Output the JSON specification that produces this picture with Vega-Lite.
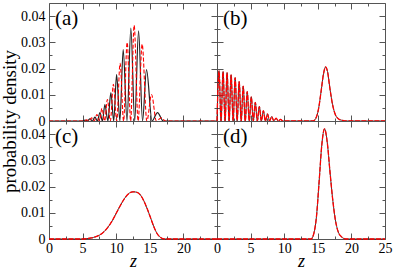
{
"$schema": "https://vega.github.io/schema/vega-lite/v6.json",
"padding": {"left": 0, "top": 2, "right": 2, "bottom": 0},
"datasets": {
"curves": [
{"panel":"a","series":"solid","z":0,"p":0},{"panel":"a","series":"solid","z":4.98,"p":0},{"panel":"a","series":"solid","z":5.35,"p":0.0003},{"panel":"a","series":"solid","z":5.72,"p":0},{"panel":"a","series":"solid","z":6.09,"p":0.0008},{"panel":"a","series":"solid","z":6.46,"p":0},{"panel":"a","series":"solid","z":6.83,"p":0.0015},{"panel":"a","series":"solid","z":7.2,"p":0},{"panel":"a","series":"solid","z":7.58,"p":0.0032},{"panel":"a","series":"solid","z":7.95,"p":0},{"panel":"a","series":"solid","z":8.32,"p":0.0063},{"panel":"a","series":"solid","z":8.76,"p":0},{"panel":"a","series":"solid","z":9.21,"p":0.0108},{"panel":"a","series":"solid","z":9.63,"p":0},{"panel":"a","series":"solid","z":10.06,"p":0.0177},{"panel":"a","series":"solid","z":10.55,"p":0},{"panel":"a","series":"solid","z":11.04,"p":0.0272},{"panel":"a","series":"solid","z":11.61,"p":0},{"panel":"a","series":"solid","z":12.18,"p":0.0354},{"panel":"a","series":"solid","z":12.75,"p":0},{"panel":"a","series":"solid","z":13.33,"p":0.0344},{"panel":"a","series":"solid","z":13.92,"p":0},{"panel":"a","series":"solid","z":14.51,"p":0.0196},{"panel":"a","series":"solid","z":15.33,"p":0},{"panel":"a","series":"solid","z":16.15,"p":0.0032},{"panel":"a","series":"solid","z":17.0,"p":0},{"panel":"a","series":"solid","z":25,"p":0},
{"panel":"a","series":"dashed","z":0,"p":0},{"panel":"a","series":"dashed","z":5.25,"p":0},{"panel":"a","series":"dashed","z":5.6,"p":0.0005},{"panel":"a","series":"dashed","z":5.97,"p":0},{"panel":"a","series":"dashed","z":6.34,"p":0.0012},{"panel":"a","series":"dashed","z":6.73,"p":0},{"panel":"a","series":"dashed","z":7.13,"p":0.0025},{"panel":"a","series":"dashed","z":7.5,"p":0},{"panel":"a","series":"dashed","z":7.88,"p":0.0048},{"panel":"a","series":"dashed","z":8.28,"p":0},{"panel":"a","series":"dashed","z":8.69,"p":0.0082},{"panel":"a","series":"dashed","z":9.13,"p":0},{"panel":"a","series":"dashed","z":9.58,"p":0.014},{"panel":"a","series":"dashed","z":10.08,"p":0},{"panel":"a","series":"dashed","z":10.58,"p":0.022},{"panel":"a","series":"dashed","z":11.1,"p":0},{"panel":"a","series":"dashed","z":11.63,"p":0.03},{"panel":"a","series":"dashed","z":12.15,"p":0},{"panel":"a","series":"dashed","z":12.67,"p":0.0365},{"panel":"a","series":"dashed","z":13.26,"p":0},{"panel":"a","series":"dashed","z":13.86,"p":0.0293},{"panel":"a","series":"dashed","z":14.56,"p":0},{"panel":"a","series":"dashed","z":15.26,"p":0.0101},{"panel":"a","series":"dashed","z":15.98,"p":0},{"panel":"a","series":"dashed","z":16.71,"p":0.0012},{"panel":"a","series":"dashed","z":17.3,"p":0},{"panel":"a","series":"dashed","z":25,"p":0},
{"panel":"b","series":"both","z":0,"p":0},{"panel":"b","series":"both","z":0.3,"p":0.0191},{"panel":"b","series":"both","z":0.6,"p":0},{"panel":"b","series":"both","z":0.9,"p":0.0188},{"panel":"b","series":"both","z":1.2,"p":0},{"panel":"b","series":"both","z":1.5,"p":0.0184},{"panel":"b","series":"both","z":1.8,"p":0},{"panel":"b","series":"both","z":2.1,"p":0.0176},{"panel":"b","series":"both","z":2.4,"p":0},{"panel":"b","series":"both","z":2.7,"p":0.0165},{"panel":"b","series":"both","z":3.0,"p":0},{"panel":"b","series":"both","z":3.3,"p":0.015},{"panel":"b","series":"both","z":3.6,"p":0},{"panel":"b","series":"both","z":3.9,"p":0.0133},{"panel":"b","series":"both","z":4.2,"p":0},{"panel":"b","series":"both","z":4.5,"p":0.0112},{"panel":"b","series":"both","z":4.8,"p":0},{"panel":"b","series":"both","z":5.1,"p":0.0092},{"panel":"b","series":"both","z":5.4,"p":0},{"panel":"b","series":"both","z":5.7,"p":0.0071},{"panel":"b","series":"both","z":6.0,"p":0},{"panel":"b","series":"both","z":6.3,"p":0.0055},{"panel":"b","series":"both","z":6.6,"p":0},{"panel":"b","series":"both","z":6.9,"p":0.0039},{"panel":"b","series":"both","z":7.2,"p":0},{"panel":"b","series":"both","z":7.51,"p":0.0027},{"panel":"b","series":"both","z":7.82,"p":0},{"panel":"b","series":"both","z":8.14,"p":0.0017},{"panel":"b","series":"both","z":8.46,"p":0},{"panel":"b","series":"both","z":8.79,"p":0.0011},{"panel":"b","series":"both","z":9.12,"p":0},{"panel":"b","series":"both","z":9.46,"p":0.0006},{"panel":"b","series":"both","z":9.8,"p":0},{"panel":"b","series":"both","z":14.3,"p":0},{"panel":"b","series":"both","z":14.7,"p":0.001},{"panel":"b","series":"both","z":15.1,"p":0.0045},{"panel":"b","series":"both","z":15.5,"p":0.0115},{"panel":"b","series":"both","z":15.85,"p":0.018},{"panel":"b","series":"both","z":16.15,"p":0.0206},{"panel":"b","series":"both","z":16.45,"p":0.0188},{"panel":"b","series":"both","z":16.8,"p":0.0125},{"panel":"b","series":"both","z":17.2,"p":0.0062},{"panel":"b","series":"both","z":17.6,"p":0.0025},{"panel":"b","series":"both","z":18.1,"p":0.0008},{"panel":"b","series":"both","z":18.7,"p":0.0002},{"panel":"b","series":"both","z":19.3,"p":0},{"panel":"b","series":"both","z":25,"p":0},
{"panel":"c","series":"both","z":0,"p":0},{"panel":"c","series":"both","z":4.8,"p":0},{"panel":"c","series":"both","z":5.5,"p":0.0001},{"panel":"c","series":"both","z":6.3,"p":0.0004},{"panel":"c","series":"both","z":7.0,"p":0.0009},{"panel":"c","series":"both","z":7.6,"p":0.0016},{"panel":"c","series":"both","z":8.2,"p":0.0028},{"panel":"c","series":"both","z":8.8,"p":0.0046},{"panel":"c","series":"both","z":9.4,"p":0.0069},{"panel":"c","series":"both","z":10.0,"p":0.0098},{"panel":"c","series":"both","z":10.6,"p":0.0127},{"panel":"c","series":"both","z":11.2,"p":0.0153},{"panel":"c","series":"both","z":11.8,"p":0.0172},{"panel":"c","series":"both","z":12.5,"p":0.018},{"panel":"c","series":"both","z":13.1,"p":0.0178},{"panel":"c","series":"both","z":13.6,"p":0.0168},{"panel":"c","series":"both","z":14.1,"p":0.0146},{"panel":"c","series":"both","z":14.6,"p":0.0116},{"panel":"c","series":"both","z":15.1,"p":0.0082},{"panel":"c","series":"both","z":15.6,"p":0.0047},{"panel":"c","series":"both","z":16.1,"p":0.002},{"panel":"c","series":"both","z":16.6,"p":0.0006},{"panel":"c","series":"both","z":17.2,"p":0},{"panel":"c","series":"both","z":25,"p":0},
{"panel":"d","series":"both","z":0,"p":0},{"panel":"d","series":"both","z":14.0,"p":0},{"panel":"d","series":"both","z":14.4,"p":0.002},{"panel":"d","series":"both","z":14.8,"p":0.0085},{"panel":"d","series":"both","z":15.2,"p":0.022},{"panel":"d","series":"both","z":15.6,"p":0.036},{"panel":"d","series":"both","z":16.0,"p":0.042},{"panel":"d","series":"both","z":16.4,"p":0.037},{"panel":"d","series":"both","z":16.8,"p":0.026},{"panel":"d","series":"both","z":17.2,"p":0.0155},{"panel":"d","series":"both","z":17.6,"p":0.0075},{"panel":"d","series":"both","z":18.0,"p":0.003},{"panel":"d","series":"both","z":18.5,"p":0.0009},{"panel":"d","series":"both","z":19.2,"p":0},{"panel":"d","series":"both","z":25,"p":0}
],
"labels": [
{"panel":"a","z":0.9,"p":0.039,"label":"(a)"},
{"panel":"b","z":0.9,"p":0.039,"label":"(b)"},
{"panel":"c","z":0.9,"p":0.039,"label":"(c)"},
{"panel":"d","z":0.9,"p":0.039,"label":"(d)"}
]
},
"config": {
"view": {"stroke": "#555", "strokeWidth": 1},
"axis": {"domain": false, "grid": false, "tickSize": 0, "tickColor": "#555", "tickWidth": 1, "labelFont": "Liberation Serif", "labelFontSize": 14, "labelColor": "#000", "labelOverlap": false, "labelFlush": false, "labelBound": false, "titleFont": "Liberation Serif", "titleFontSize": 19, "titleFontWeight": "normal", "titleColor": "#000"},
"axisX": {"labelPadding": 2, "titlePadding": -3, "titleFontSize": 18},
"axisY": {"labelPadding": 4, "titlePadding": 1}
},
"columns": 2,
"spacing": 0,
"bounds": "flush",
"concat": [
{"width": 168, "height": 118,
 "layer": [
  {"data": {"name": "curves"}, "transform": [{"filter": "datum.panel === 'a' && datum.series !== 'dashed'"}],
   "mark": {"type": "line", "color": "#222", "strokeWidth": 1.2, "interpolate": "monotone"},
   "encoding": {
    "x": {"field": "z", "type": "quantitative", "scale": {"domain": [0, 25], "nice": false}, "axis": {"orient": "bottom", "values": [0,2.5,5,7.5,10,12.5,15,17.5,20,22.5,25], "labels": false, "title": null, "encoding": {"ticks": {"y2": {"value": {"expr": "datum.value % 5 === 0 ? -6 : -3"}}}}}},
    "y": {"field": "p", "type": "quantitative", "scale": {"domain": [0, 0.045], "nice": false}, "axis": {"orient": "left", "values": [0,0.005,0.01,0.015,0.02,0.025,0.03,0.035,0.04], "labelExpr": "abs(datum.value*100 - round(datum.value*100)) < 1e-6 ? format(datum.value, '~g') : ''", "title": "probability density", "titleY": 118, "encoding": {"ticks": {"x2": {"value": {"expr": "abs(datum.value*100 - round(datum.value*100)) < 1e-6 ? 6 : 3"}}}}}}
   }},
  {"data": {"name": "curves"}, "transform": [{"filter": "datum.panel === 'a' && datum.series !== 'solid'"}],
   "mark": {"type": "line", "color": "#ff0000", "strokeWidth": 1.1, "strokeDash": [4, 2], "interpolate": "monotone"},
   "encoding": {
    "x": {"field": "z", "type": "quantitative", "scale": {"domain": [0, 25], "nice": false}, "axis": {"orient": "top", "values": [0,2.5,5,7.5,10,12.5,15,17.5,20,22.5,25], "labels": false, "title": null, "encoding": {"ticks": {"y2": {"value": {"expr": "datum.value % 5 === 0 ? 6 : 3"}}}}}},
    "y": {"field": "p", "type": "quantitative", "scale": {"domain": [0, 0.045], "nice": false}, "axis": {"orient": "right", "values": [0,0.005,0.01,0.015,0.02,0.025,0.03,0.035,0.04], "labels": false, "title": null, "encoding": {"ticks": {"x2": {"value": {"expr": "abs(datum.value*100 - round(datum.value*100)) < 1e-6 ? -6 : -3"}}}}}}
   }},
  {"data": {"name": "labels"}, "transform": [{"filter": "datum.panel === 'a'"}],
   "mark": {"type": "text", "font": "Liberation Serif", "fontSize": 21, "align": "left", "baseline": "middle", "color": "#000"},
   "encoding": {
    "x": {"field": "z", "type": "quantitative", "scale": {"domain": [0, 25], "nice": false}, "axis": null},
    "y": {"field": "p", "type": "quantitative", "scale": {"domain": [0, 0.045], "nice": false}, "axis": null},
    "text": {"field": "label"}
   }}
 ],
 "resolve": {"axis": {"x": "independent", "y": "independent"}}
},
{"width": 168, "height": 118,
 "layer": [
  {"data": {"name": "curves"}, "transform": [{"filter": "datum.panel === 'b' && datum.series !== 'dashed'"}],
   "mark": {"type": "line", "color": "#222", "strokeWidth": 0.9, "interpolate": "monotone"},
   "encoding": {
    "x": {"field": "z", "type": "quantitative", "scale": {"domain": [0, 25], "nice": false}, "axis": {"orient": "bottom", "values": [0,2.5,5,7.5,10,12.5,15,17.5,20,22.5,25], "labels": false, "title": null, "encoding": {"ticks": {"y2": {"value": {"expr": "datum.value % 5 === 0 ? -6 : -3"}}}}}},
    "y": {"field": "p", "type": "quantitative", "scale": {"domain": [0, 0.045], "nice": false}, "axis": {"orient": "left", "values": [0,0.005,0.01,0.015,0.02,0.025,0.03,0.035,0.04], "labels": false, "title": null, "encoding": {"ticks": {"x2": {"value": {"expr": "abs(datum.value*100 - round(datum.value*100)) < 1e-6 ? 6 : 3"}}}}}}
   }},
  {"data": {"name": "curves"}, "transform": [{"filter": "datum.panel === 'b' && datum.series !== 'solid'"}],
   "mark": {"type": "line", "color": "#ff0000", "strokeWidth": 1.3, "strokeDash": [5, 1.5], "interpolate": "monotone"},
   "encoding": {
    "x": {"field": "z", "type": "quantitative", "scale": {"domain": [0, 25], "nice": false}, "axis": {"orient": "top", "values": [0,2.5,5,7.5,10,12.5,15,17.5,20,22.5,25], "labels": false, "title": null, "encoding": {"ticks": {"y2": {"value": {"expr": "datum.value % 5 === 0 ? 6 : 3"}}}}}},
    "y": {"field": "p", "type": "quantitative", "scale": {"domain": [0, 0.045], "nice": false}, "axis": {"orient": "right", "values": [0,0.005,0.01,0.015,0.02,0.025,0.03,0.035,0.04], "labels": false, "title": null, "encoding": {"ticks": {"x2": {"value": {"expr": "abs(datum.value*100 - round(datum.value*100)) < 1e-6 ? -6 : -3"}}}}}}
   }},
  {"data": {"name": "labels"}, "transform": [{"filter": "datum.panel === 'b'"}],
   "mark": {"type": "text", "font": "Liberation Serif", "fontSize": 21, "align": "left", "baseline": "middle", "color": "#000"},
   "encoding": {
    "x": {"field": "z", "type": "quantitative", "scale": {"domain": [0, 25], "nice": false}, "axis": null},
    "y": {"field": "p", "type": "quantitative", "scale": {"domain": [0, 0.045], "nice": false}, "axis": null},
    "text": {"field": "label"}
   }}
 ],
 "resolve": {"axis": {"x": "independent", "y": "independent"}}
},
{"width": 168, "height": 118,
 "layer": [
  {"data": {"name": "curves"}, "transform": [{"filter": "datum.panel === 'c' && datum.series !== 'dashed'"}],
   "mark": {"type": "line", "color": "#222", "strokeWidth": 0.9, "interpolate": "monotone"},
   "encoding": {
    "x": {"field": "z", "type": "quantitative", "scale": {"domain": [0, 25], "nice": false}, "axis": {"orient": "bottom", "values": [0,2.5,5,7.5,10,12.5,15,17.5,20,22.5,25], "labelExpr": "datum.value % 5 === 0 && datum.value < 25 ? datum.label : ''", "title": "z", "titleFontStyle": "italic", "encoding": {"ticks": {"y2": {"value": {"expr": "datum.value % 5 === 0 ? -6 : -3"}}}}}},
    "y": {"field": "p", "type": "quantitative", "scale": {"domain": [0, 0.045], "nice": false}, "axis": {"orient": "left", "values": [0,0.005,0.01,0.015,0.02,0.025,0.03,0.035,0.04], "labelExpr": "abs(datum.value*100 - round(datum.value*100)) < 1e-6 ? format(datum.value, '~g') : ''", "title": null, "encoding": {"ticks": {"x2": {"value": {"expr": "abs(datum.value*100 - round(datum.value*100)) < 1e-6 ? 6 : 3"}}}}}}
   }},
  {"data": {"name": "curves"}, "transform": [{"filter": "datum.panel === 'c' && datum.series !== 'solid'"}],
   "mark": {"type": "line", "color": "#ff0000", "strokeWidth": 1.3, "strokeDash": [5, 1.5], "interpolate": "monotone"},
   "encoding": {
    "x": {"field": "z", "type": "quantitative", "scale": {"domain": [0, 25], "nice": false}, "axis": {"orient": "top", "values": [0,2.5,5,7.5,10,12.5,15,17.5,20,22.5,25], "labels": false, "title": null, "encoding": {"ticks": {"y2": {"value": {"expr": "datum.value % 5 === 0 ? 6 : 3"}}}}}},
    "y": {"field": "p", "type": "quantitative", "scale": {"domain": [0, 0.045], "nice": false}, "axis": {"orient": "right", "values": [0,0.005,0.01,0.015,0.02,0.025,0.03,0.035,0.04], "labels": false, "title": null, "encoding": {"ticks": {"x2": {"value": {"expr": "abs(datum.value*100 - round(datum.value*100)) < 1e-6 ? -6 : -3"}}}}}}
   }},
  {"data": {"name": "labels"}, "transform": [{"filter": "datum.panel === 'c'"}],
   "mark": {"type": "text", "font": "Liberation Serif", "fontSize": 21, "align": "left", "baseline": "middle", "color": "#000"},
   "encoding": {
    "x": {"field": "z", "type": "quantitative", "scale": {"domain": [0, 25], "nice": false}, "axis": null},
    "y": {"field": "p", "type": "quantitative", "scale": {"domain": [0, 0.045], "nice": false}, "axis": null},
    "text": {"field": "label"}
   }}
 ],
 "resolve": {"axis": {"x": "independent", "y": "independent"}}
},
{"width": 168, "height": 118,
 "layer": [
  {"data": {"name": "curves"}, "transform": [{"filter": "datum.panel === 'd' && datum.series !== 'dashed'"}],
   "mark": {"type": "line", "color": "#222", "strokeWidth": 0.9, "interpolate": "monotone"},
   "encoding": {
    "x": {"field": "z", "type": "quantitative", "scale": {"domain": [0, 25], "nice": false}, "axis": {"orient": "bottom", "values": [0,2.5,5,7.5,10,12.5,15,17.5,20,22.5,25], "labelExpr": "datum.value % 5 === 0 ? datum.label : ''", "title": "z", "titleFontStyle": "italic", "encoding": {"ticks": {"y2": {"value": {"expr": "datum.value % 5 === 0 ? -6 : -3"}}}}}},
    "y": {"field": "p", "type": "quantitative", "scale": {"domain": [0, 0.045], "nice": false}, "axis": {"orient": "left", "values": [0,0.005,0.01,0.015,0.02,0.025,0.03,0.035,0.04], "labels": false, "title": null, "encoding": {"ticks": {"x2": {"value": {"expr": "abs(datum.value*100 - round(datum.value*100)) < 1e-6 ? 6 : 3"}}}}}}
   }},
  {"data": {"name": "curves"}, "transform": [{"filter": "datum.panel === 'd' && datum.series !== 'solid'"}],
   "mark": {"type": "line", "color": "#ff0000", "strokeWidth": 1.3, "strokeDash": [5, 1.5], "interpolate": "monotone"},
   "encoding": {
    "x": {"field": "z", "type": "quantitative", "scale": {"domain": [0, 25], "nice": false}, "axis": {"orient": "top", "values": [0,2.5,5,7.5,10,12.5,15,17.5,20,22.5,25], "labels": false, "title": null, "encoding": {"ticks": {"y2": {"value": {"expr": "datum.value % 5 === 0 ? 6 : 3"}}}}}},
    "y": {"field": "p", "type": "quantitative", "scale": {"domain": [0, 0.045], "nice": false}, "axis": {"orient": "right", "values": [0,0.005,0.01,0.015,0.02,0.025,0.03,0.035,0.04], "labels": false, "title": null, "encoding": {"ticks": {"x2": {"value": {"expr": "abs(datum.value*100 - round(datum.value*100)) < 1e-6 ? -6 : -3"}}}}}}
   }},
  {"data": {"name": "labels"}, "transform": [{"filter": "datum.panel === 'd'"}],
   "mark": {"type": "text", "font": "Liberation Serif", "fontSize": 21, "align": "left", "baseline": "middle", "color": "#000"},
   "encoding": {
    "x": {"field": "z", "type": "quantitative", "scale": {"domain": [0, 25], "nice": false}, "axis": null},
    "y": {"field": "p", "type": "quantitative", "scale": {"domain": [0, 0.045], "nice": false}, "axis": null},
    "text": {"field": "label"}
   }}
 ],
 "resolve": {"axis": {"x": "independent", "y": "independent"}}
}
]
}
